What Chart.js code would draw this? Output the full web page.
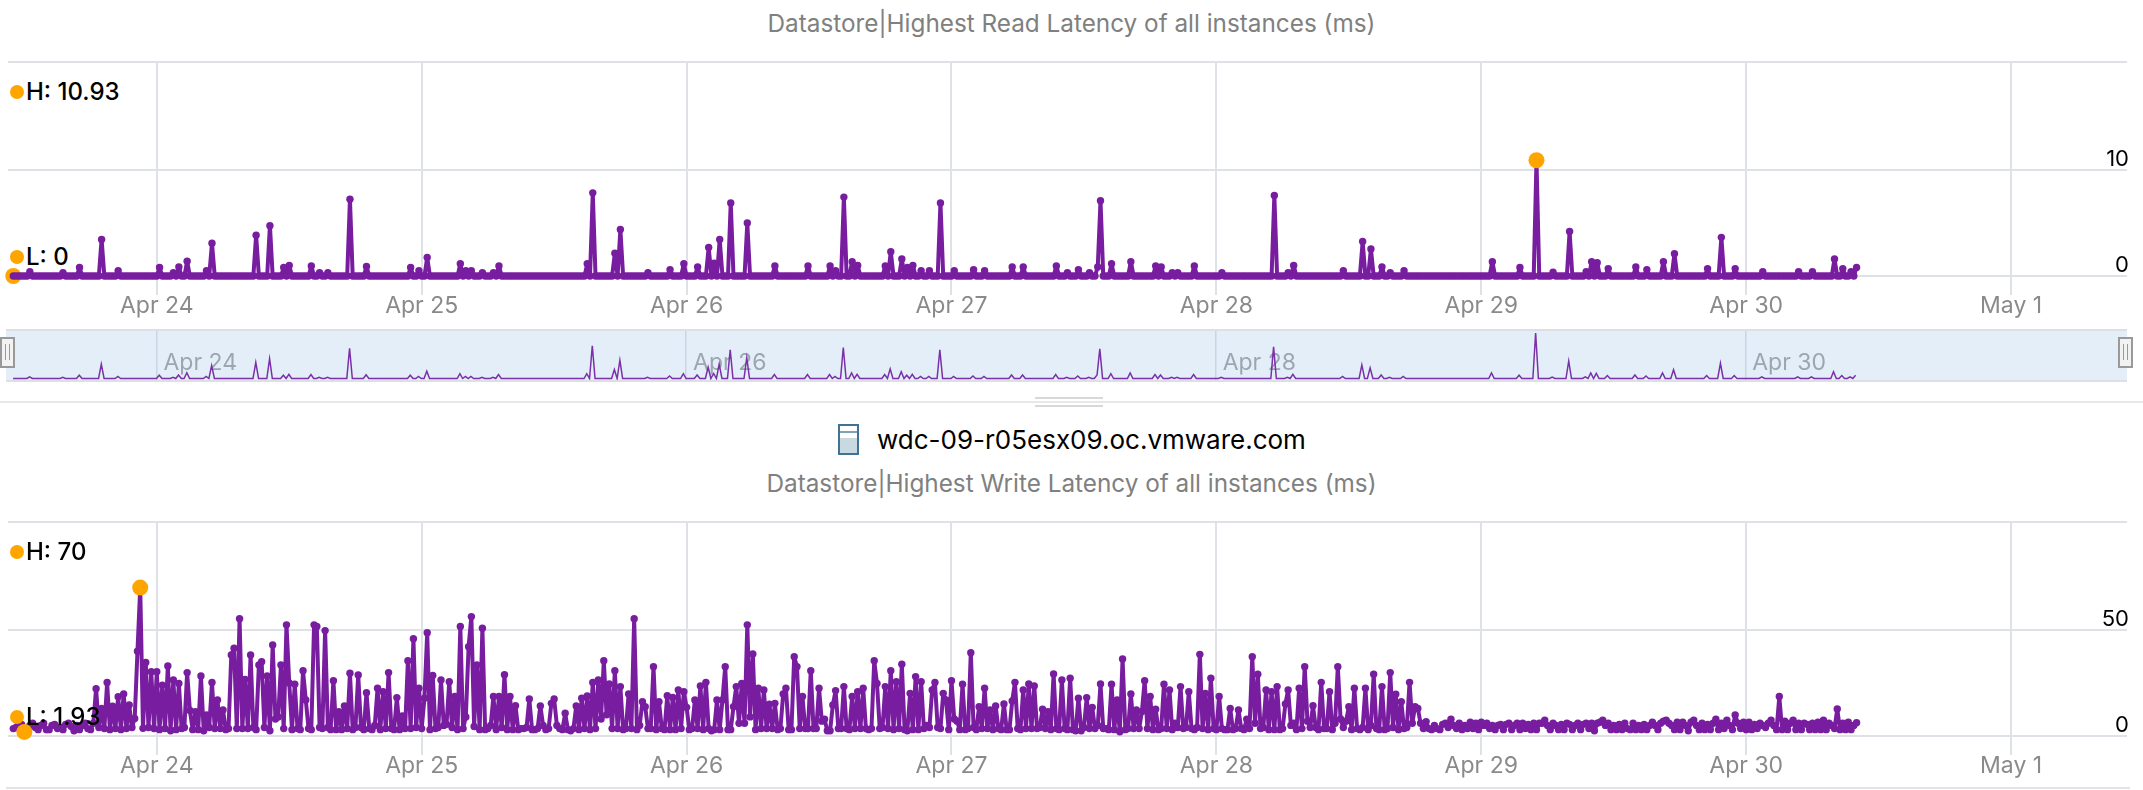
<!DOCTYPE html>
<html>
<head>
<meta charset="utf-8">
<title>Datastore latency</title>
<script src="https://cdn.jsdelivr.net/npm/chart.js@4/dist/chart.umd.min.js"></script>
<style>
  html, body { margin: 0; padding: 0; background: #fff; }
  body { position: relative; width: 2143px; height: 790px; overflow: hidden; font-family: Inter, sans-serif; }
  canvas, .abs { position: absolute; }
  .title { left: 0; width: 2143px; text-align: center; font-size: 24.3px; color: #808080; line-height: 28px; white-space: nowrap; }
  .stat { left: 26px; font-size: 24px; font-weight: 500; color: #000; line-height: 28px; white-space: nowrap; }
  .dot { left: 10px; width: 14px; height: 14px; border-radius: 50%; background: #ffa500; }
  #navBg { left: 6px; top: 329px; width: 2121px; height: 49px; background: #e3eef9; border-top: 2px solid #dcdfe3; border-bottom: 2px solid #dcdfe3; }
  .grip { top: 337px; width: 11px; height: 27px; background: #f2f2f2; border: 2.5px solid #999; }
  .grip::after { content: ''; position: absolute; left: 3px; top: 5px; width: 1.5px; height: 16px; border-left: 1.5px solid #999; border-right: 1.5px solid #999; padding-left: 1.5px; }
  #divider { left: 0; top: 401px; width: 2143px; height: 2px; background: #e8e8e8; }
  .notch { left: 1035px; width: 68px; height: 2px; background: #d8d8d8; }
  #footLine { left: 6px; top: 787px; width: 2124px; height: 2px; background: #e1e4e8; }
  #hostIcon { left: 838px; top: 424px; width: 17px; height: 27px; border: 2px solid #3f7391; background: linear-gradient(#fff 0, #fff 5px, #7fa3b8 5px, #7fa3b8 7px, #fff 7px, #fff 12px, #c8d9e2 12px); }
  #host { left: 877px; top: 424px; font-size: 26px; line-height: 32px; color: #000; white-space: nowrap; }
</style>
</head>
<body>

<div class="abs title" style="top:9px">Datastore|Highest Read Latency of all instances (ms)</div>
<div class="abs dot" style="top:85px"></div>
<div class="abs stat" style="top:78px">H: 10.93</div>
<div class="abs dot" style="top:250px"></div>
<div class="abs stat" style="top:243px">L: 0</div>

<div class="abs" id="navBg"></div>
<div class="abs" id="divider"></div>
<div class="abs notch" style="top:397px"></div>
<div class="abs notch" style="top:405px"></div>
<div class="abs" id="hostIcon"></div>
<div class="abs" id="host">wdc-09-r05esx09.oc.vmware.com</div>
<div class="abs title" style="top:469px">Datastore|Highest Write Latency of all instances (ms)</div>

<canvas id="readChart" width="2143" height="326" style="left:0;top:0"></canvas>
<canvas id="navChart" width="2143" height="52" style="left:0;top:329px"></canvas>
<canvas id="writeChart" width="2143" height="386" style="left:0;top:400px"></canvas>

<div class="abs grip" style="left:0"></div>
<div class="abs grip" style="left:2118px"></div>

<div class="abs dot" style="top:545px"></div>
<div class="abs stat" style="top:538px">H: 70</div>
<div class="abs dot" style="top:710px"></div>
<div class="abs stat" style="top:703px">L: 1.93</div>
<div class="abs" id="footLine"></div>

<script>
'use strict';

// ── Data: one sample every 15 minutes, 24 samples per row ────────────────────
const readValues = [
  0,0,0,0,0,0, .4,0,0,0,0,0, 0,0,0,0,0,0, .3,0,0,0,0,0,
  .8,0,0,0,0,0, 0,0,3.45,0,0,0, 0,0,.5,0,0,0, 0,0,0,0,0,0,
  0,0,0,0,0,.8, 0,0,0,0,.3,0, .85,0,0,1.4,0,0, 0,0,0,0,.5,0,
  3.1,0,0,0,0,0, 0,0,0,0,0,0, 0,0,0,0,3.85,0, 0,0,0,4.75,0,0,
  0,0,.8,0,1,0, 0,0,0,0,0,0, .95,0,0,.3,0,0, .3,0,0,0,0,0,
  0,0,7.25,0,0,0, 0,0,.9,0,0,0, 0,0,0,0,0,0, 0,0,0,0,0,0,
  .8,0,0,.5,0,0, 1.75,0,0,0,0,0, 0,0,0,0,0,0, 1.15,0,.5,0,.5,0,
  0,0,.3,0,0,0, .3,0,.95,0,0,0, 0,0,0,0,0,0, 0,0,0,0,0,0,
  0,0,0,0,0,0, 0,0,0,0,0,0, 0,0,0,0,1.15,0, 7.85,0,0,0,0,0,
  0,0,2.15,0,4.4,0, 0,0,0,0,0,0, 0,0,.3,0,0,0, 0,0,0,0,.6,0,
  0,0,0,1.15,0,0, 0,0,.85,0,0,0, 2.7,0,1.2,0,3.45,0, 0,0,6.9,0,0,0,
  0,0,5,0,0,0, 0,0,0,0,0,0, .95,0,0,0,0,0, 0,0,0,0,0,0,
  .95,0,0,0,0,0, 0,0,.95,0,.5,0, 0,7.45,0,0,1.35,0, 1,0,0,0,0,0,
  0,0,0,0,.95,0, 2.3,0,0,0,1.6,0, .8,0,1,0,0,.5, 0,0,.5,0,0,0,
  6.9,0,0,0,0,.5, 0,0,0,0,0,0, .6,0,0,0,.5,0, 0,0,0,0,0,0,
  0,0,.85,0,0,0, .85,0,0,0,0,0, 0,0,0,0,0,0, .95,0,0,0,.3,0,
  0,0,.6,0,0,0, .3,0,0,.85,7.1,0, 0,0,1.15,0,0,0, 0,0,0,1.35,0,0,
  0,0,0,0,0,0, .95,0,.85,0,0,0, .3,0,.3,0,0,0, 0,0,.95,0,0,0,
  0,0,0,0,0,0, .3,0,0,0,0,0, 0,0,0,0,0,0, 0,0,0,0,0,0,
  0,7.6,0,0,0,0, .3,0,1,0,0,0, 0,0,0,0,0,0, 0,0,0,0,0,0,
  0,0,.5,0,0,0, 0,0,0,3.25,0,0, 2.55,0,0,0,.85,0, 0,.3,0,0,0,0,
  .5,0,0,0,0,0, 0,0,0,0,0,0, 0,0,0,0,0,0, 0,0,0,0,0,0,
  0,0,0,0,0,0, 0,0,1.35,0,0,0, 0,0,0,0,0,0, .8,0,0,0,0,0,
  10.93,0,0,0,0,0, .35,0,0,0,0,0, 4.2,0,0,0,0,0, .4,0,1.35,0,1.25,0,
  0,0,.7,0,0,0, 0,0,0,0,0,0, .85,0,0,0,.6,0, 0,0,0,0,1.35,0,
  0,0,2.1,0,0,0, 0,0,0,0,0,0, 0,0,.7,0,0,0, 0,3.65,0,0,0,0,
  .7,0,0,0,0,0, 0,0,0,0,.4,0, 0,0,0,0,0,0, 0,0,0,0,0,.4,
  0,0,0,0,.4,0, 0,0,0,0,0,0, 1.6,0,0,.7,0,0, .4,0,.8
];

const writeValues = [
  3.5,4,6,5.5,1.93,3, 5,6,4,3,5,6, 3,3,5,5.5,3.5,4, 3,5.5,6,4.5,2.5,5,
  3,5,6,3.5,3,6, 22.3,4,13,3.5,25.2,3, 14,3.5,18.5,3,19.8,3.5, 14.6,4,8.3,40,70,3.6,
  34.7,4,30.3,3.5,30.3,3, 24,3.5,33,2.5,26.4,3, 24.8,3.5,4,29.9,12,3, 11.5,3,28.3,2.5,9.9,4,
  25.2,3.5,17,3.5,12.3,3, 3.5,38.2,41.4,3.5,55.3,3.5, 26.7,3.5,38.2,4,3,33.5, 35,4,28.3,2.5,42.9,8,
  9,33.5,3.5,52.4,25,3, 24.4,3.5,3,30.8,17,3.5, 3,52.4,51.6,4,3.5,49.7, 4,3,26.1,3,11.5,3,
  14.2,3.5,29.6,3,4,28.8, 4,3,20.4,3.5,3,5, 22.5,3,20.9,3.5,29.9,3.5, 3,18.1,3,9.4,3.5,35.5,
  3.5,45.9,4,22.5,3.5,17.8, 48.7,3,28.5,3.5,4,26.4, 5,5.5,25.6,4,18.6,3, 51.6,3.5,9,42.1,56.3,4.5,
  33.5,3,50.8,3,3.5,5, 18.6,3,18.6,4,28.9,3, 18.6,3,14.3,3,3.5,3.5, 4,17.5,3,3,3.5,14.2,
  5,3,3.5,15.4,17.5,5, 3.5,3,10.7,3,2.5,3.5, 14.2,3,17.8,3.5,18.9,3, 25.2,3.5,26.4,8,35.5,10,
  24.5,3.5,30.8,3.5,23.3,3, 3.5,19.8,3.5,55.3,3,5, 16.2,13.8,3.5,3.5,32.7,3, 16.2,3.5,3,19,3,18.2,
  3,21.7,3.5,20.9,13.5,3, 3.5,17,3.5,23.6,3,25.3, 3.5,2.5,3,17,3,17, 32.7,3,3,13.8,23.3,6,
  24.8,6,52.4,9,38.7,3, 22.5,3.5,21.7,3.5,15,3.5, 15.4,3,3.5,19.8,22.5,3, 3,37.4,32.7,3.5,18.6,3.5,
  3.5,30.8,3.5,3.5,22.5,7, 7.9,2.5,2.5,14.6,21.4,3.5, 3.5,23.3,3.5,3,18.6,3.5, 20.9,3.5,22.5,3.5,3,3.5,
  35.5,24.8,3.5,4,23.3,3.5, 30.8,3,25.6,3.5,33.8,3, 2.5,20.1,3,28,3,25.6, 3.5,5,4,21.7,25.2,4,
  3.5,20.1,17,3,26.1,8, 7,3,24.4,3,3.5,39.3, 4,3,13.8,3.5,22.5,3.5, 12.3,3,14.2,3.5,3,15.1,
  3,3,16.5,25.3,3.5,3, 21.7,3.5,24.5,3.5,23.6,3.5, 4,12.6,3.5,11.5,3,29.2, 3.5,3,26.4,3.5,3,27.2,
  3,2.5,17.8,2.5,4,18.1, 3.5,13.5,3.5,5,24.5,3.5, 3.5,3,24.4,3,17,2, 36.3,3,3.5,19.8,3.5,12.3,
  3.5,11.5,26.1,3.5,18.6,3, 12.6,3,3.5,24.4,3.5,21.7, 3,6,4,23.3,3.5,4, 20.9,3.5,3,4,38.5,3.5,
  20.1,3,27.2,3.5,3,18.6, 3.5,3,3,13,3,3.5, 12.3,3.5,3,7.9,3.5,37.4, 6,29.1,3.5,4,21.7,3,
  20.9,3,23.3,3,3.5,15.1, 21.7,5,6,3,22.5,3.5, 32.7,7,4,14.3,4,3, 25.3,3.5,3.5,20.9,3,6,
  32.7,8,4,7,13.8,3, 22.5,3.5,3,4,22.5,3, 5,29.1,3.5,3,23.3,3, 3.5,29.9,4,19.7,3,16.2,
  3.5,4,25.3,6,13.8,13, 6,3.5,6.8,3.5,3,5, 3.5,3,5.5,6,4,7.9, 5,3.5,6,3,5,3.5,
  6.5,3.5,6,3,6.5,5, 6,3.5,5,3,5,5.5, 3,5.5,6,3,5,6, 3,6,3.5,5.5,3,6,
  3,6,6,7.5,5,3, 6,5,3,5.5,3,6, 5.5,3,5,6,3,5.5, 6,3.5,6,2.5,6,6.5,
  7.5,5,6,3,5,3, 5.5,3,6,3.5,3,6, 3,5,3,5.5,3,5, 6.5,5,3,6,7,7.5,
  6,5,3,6.5,3,6.5, 5,2.5,6.5,7.5,5,3, 6,3,5.5,3,6,7.9, 3,6,3.5,7.5,5,3,
  9.9,6,3.5,6.5,3,6.5, 3,5.5,3.5,6,5,4, 6,7.5,5,3,18.6,3, 7,3,6,7.5,3,6,
  3,6,5.5,3,6,3, 6.5,3,7.5,3,6,5, 3.5,12.7,3,6,3,6.5, 3,5,6.3
];

// hours counted from Apr 23 00:00
const firstSampleHour = 11;
const sampleStep = 0.25;
const dayHours = [24, 48, 72, 96, 120, 144, 168, 192];
const dayLabels = ['Apr 24', 'Apr 25', 'Apr 26', 'Apr 27', 'Apr 28', 'Apr 29', 'Apr 30', 'May 1'];
const navHours = [24, 72, 120, 168];
const navLabels = ['Apr 24', 'Apr 26', 'Apr 28', 'Apr 30'];

// ── Styles ───────────────────────────────────────────────────────────────────
const PURPLE = '#781da0';
const ORANGE = '#ffa500';
const GRID = '#dee1e6';
const FONT = 'Inter, sans-serif';

// ── Helpers ──────────────────────────────────────────────────────────────────
function toPoints(values) {
  return values.map((y, i) => ({ x: firstSampleHour + i * sampleStep, y }));
}

function markerAt(values, value, order) {
  const i = values.indexOf(value);
  return {
    data: [{ x: firstSampleHour + i * sampleStep, y: value }],
    pointRadius: 8, pointBackgroundColor: ORANGE, pointBorderWidth: 0,
    showLine: false, clip: false, order
  };
}

function latencyChart(id, values, yTick, yTop, lowOrder, plotTop) {
  return new Chart(document.getElementById(id), {
    type: 'line',
    data: {
      datasets: [
        markerAt(values, Math.max(...values), 0),
        markerAt(values, Math.min(...values), lowOrder),
        { data: toPoints(values), borderColor: PURPLE, borderWidth: 4, borderJoinStyle: 'round', borderCapStyle: 'round',
          tension: 0, pointRadius: 3.7, pointBackgroundColor: PURPLE, pointBorderWidth: 0, clip: false, order: 1 }
      ]
    },
    options: {
      responsive: false, animation: false, devicePixelRatio: 1,
      layout: { padding: { left: 6, right: 16, top: plotTop, bottom: 0 } },
      plugins: { legend: { display: false }, tooltip: { enabled: false } },
      scales: {
        x: {
          type: 'linear', min: 10.52, max: 202.5,
          afterBuildTicks: a => { a.ticks = dayHours.map(value => ({ value })); },
          afterFit: a => { a.height = 50; },
          border: { display: false },
          grid: { color: GRID, lineWidth: 2, tickLength: 19 },
          ticks: {
            maxRotation: 0, autoSkip: false, padding: -3, color: '#8a8a8a',
            font: { family: FONT, size: 23 },
            callback: v => dayLabels[dayHours.indexOf(v)]
          }
        },
        y: {
          position: 'right', min: 0, max: yTop,
          afterBuildTicks: a => { a.ticks = [0, yTick, yTop].map(value => ({ value })); },
          afterFit: a => { a.width = 0; },
          border: { display: false },
          grid: { color: GRID, lineWidth: 2, drawTicks: false },
          ticks: {
            mirror: true, padding: 2, color: '#000',
            font: { family: FONT, size: 22, lineHeight: 1 },
            // the empty second line lifts the label above its grid line
            callback: v => v === yTop ? '' : [String(v), '']
          }
        }
      }
    }
  });
}

// ── Charts ───────────────────────────────────────────────────────────────────
latencyChart('readChart', readValues, 10, 20.25, 2, 61.5);
latencyChart('writeChart', writeValues, 50, 100.9, 0, 122);

new Chart(document.getElementById('navChart'), {
  type: 'line',
  data: {
    datasets: [{ data: toPoints(readValues), borderColor: '#7a30a8', borderWidth: 1.5, tension: 0, pointRadius: 0 }]
  },
  options: {
    responsive: false, animation: false, devicePixelRatio: 1,
    layout: { padding: { left: 6, right: 16, top: 2, bottom: 1 } },
    plugins: { legend: { display: false }, tooltip: { enabled: false } },
    scales: {
      x: {
        type: 'linear', min: 10.36, max: 202.6,
        afterBuildTicks: a => { a.ticks = navHours.map(value => ({ value })); },
        afterFit: a => { a.height = 0; },
        border: { display: false },
        grid: { color: '#c8d5e2', lineWidth: 1.5, drawTicks: false },
        ticks: {
          // mirror keeps the labels from being clipped to the zero-height axis box,
          // and its padding counts upward from the axis
          mirror: true, maxRotation: 0, align: 'start', labelOffset: 7, padding: 3, color: '#9ca6b0',
          font: { family: FONT, size: 23 },
          callback: v => navLabels[navHours.indexOf(v)]
        }
      },
      y: { display: false, min: -0.36, max: 11.4 }
    }
  }
});
</script>
</body>
</html>
